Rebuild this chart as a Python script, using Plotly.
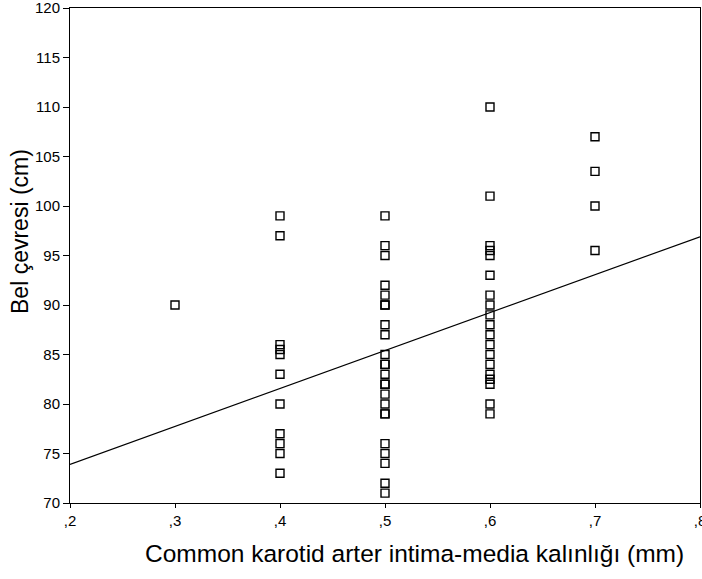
import plotly.graph_objects as go

# Data
x_03 = [0.3]
y_03 = [90]
x_04_vals = [99, 97, 86, 85.5, 85, 83, 80, 77, 76, 75, 73]
x_05_vals = [99, 96, 95, 92, 91, 90, 90, 88, 87, 85, 84, 84, 83, 82, 82, 81, 80, 79, 79, 76, 75, 74, 72, 71]
x_06_vals = [110, 101, 96, 95.5, 95, 93, 91, 90, 89, 88, 87, 86, 85, 84, 83, 82.5, 82, 80, 79]
x_07_vals = [107, 103.5, 100, 95.5]

# Fit line (as drawn in the reference)
fit_intercept = 66.23
fit_slope = 38.33
fit_x = [0.2, 0.8]

x_tickvals = [0.2, 0.3, 0.4, 0.5, 0.6, 0.7, 0.8]
x_ticktext = [",2", ",3", ",4", ",5", ",6", ",7", ",8"]
y_tickvals = [70, 75, 80, 85, 90, 95, 100, 105, 110, 115, 120]

x_title = "Common karotid arter intima-media kalınlığı (mm)"
y_title = "Bel çevresi (cm)"

xs, ys = [], []
for xv, vals in [(0.3, y_03), (0.4, x_04_vals), (0.5, x_05_vals), (0.6, x_06_vals), (0.7, x_07_vals)]:
    xs += [xv] * len(vals)
    ys += vals

fig = go.Figure()
fig.add_trace(go.Scatter(
    x=fit_x, y=[fit_intercept + fit_slope * v for v in fit_x],
    mode="lines", line=dict(color="black", width=1.2), showlegend=False, hoverinfo="skip"))
fig.add_trace(go.Scatter(
    x=xs, y=ys, mode="markers",
    marker=dict(symbol="square-open", size=8, color="black", line=dict(width=1.4)),
    showlegend=False))

font_family = "Liberation Sans, Arial, sans-serif"
fig.update_layout(
    width=702, height=579,
    margin=dict(l=70, r=2, t=8, b=76),
    paper_bgcolor="white", plot_bgcolor="white",
    font=dict(family=font_family, color="black", size=15),
    xaxis=dict(range=[0.2, 0.8], tickvals=x_tickvals, ticktext=x_ticktext, automargin=False,
               ticklabeloverflow="allow",
               showgrid=False, zeroline=False, showline=True, linecolor="black", linewidth=1,
               mirror=True, ticks="outside", ticklen=4, tickcolor="black"),
    yaxis=dict(range=[70, 120], tickvals=y_tickvals, automargin=False,
               ticklabeloverflow="allow",
               showgrid=False, zeroline=False, showline=True, linecolor="black", linewidth=1,
               mirror=True, ticks="outside", ticklen=6, tickcolor="black"),
    annotations=[
        dict(text=x_title, xref="paper", yref="paper", x=0.5476, y=0,
             xanchor="center", yanchor="middle", yshift=-50, showarrow=False,
             font=dict(size=24.5)),
        dict(text=y_title, xref="paper", yref="paper", x=0, y=0.5475, textangle=-90,
             xanchor="center", yanchor="middle", xshift=-50, showarrow=False,
             font=dict(size=23)),
    ],
)

fig.write_html("out.html", config={"displayModeBar": False},
               post_script="document.body.style.margin='0';document.body.style.overflow='hidden';")
